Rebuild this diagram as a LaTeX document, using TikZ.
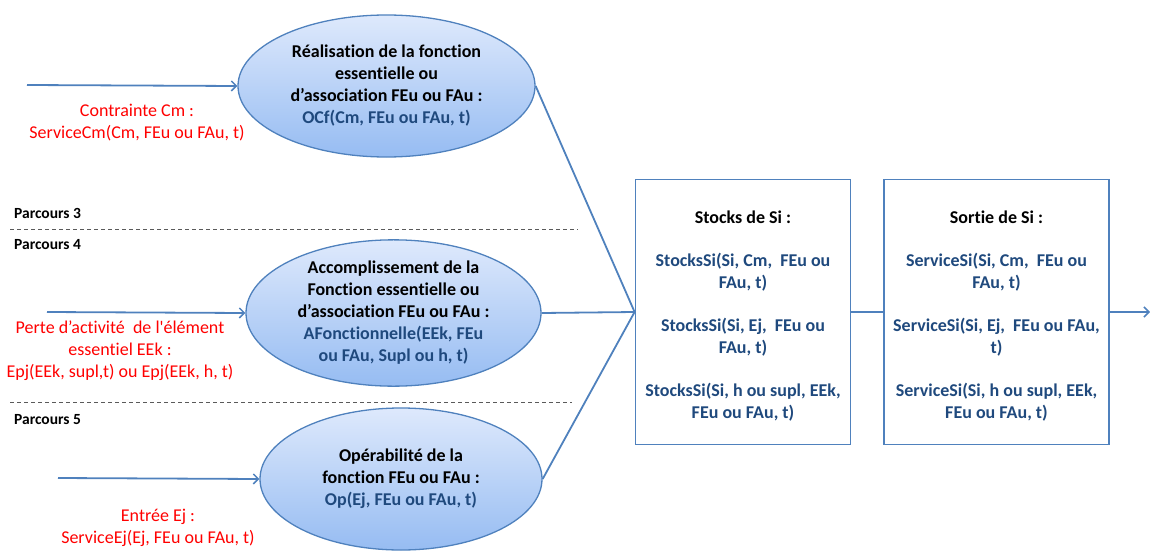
\documentclass[tikz,border=0pt]{standalone}
\usepackage{fontspec}
\setmainfont{Carlito}[Ligatures={TeXOff,CommonOff},RawFeature={-liga;-clig;-calt}]
\usetikzlibrary{shapes.geometric,arrows.meta,shadings}
\definecolor{linec}{RGB}{79,129,189}
\definecolor{txtblue}{RGB}{31,73,125}
\definecolor{txtred}{RGB}{255,0,0}
\definecolor{dashc}{RGB}{90,90,90}
\definecolor{elltop}{RGB}{222,233,252}
\definecolor{ellbot}{RGB}{150,188,242}
\tikzset{
  ellnode/.style={ellipse, draw=linec, line width=1.3pt, top color=elltop, bottom color=ellbot,
    inner sep=0pt, align=center, font=\fontsize{18}{22}\selectfont\bfseries},
  boxrect/.style={rectangle, draw=linec, line width=1.8pt, inner sep=0pt},
  boxtext/.style={align=center, inner sep=0pt, font=\fontsize{18}{22}\selectfont\bfseries},
  conn/.style={draw=linec, line width=1.8pt},
  inarrow/.style={conn, -{Straight Barb[length=5pt,width=10pt,line width=1.5pt]}},
  redlabel/.style={text=txtred, align=center, font=\fontsize{18}{22}\selectfont},
  parc/.style={anchor=west, font=\fontsize{15.5}{17}\selectfont\bfseries, inner sep=0pt},
  sep/.style={draw=dashc, line width=1pt, dash pattern=on 4pt off 3pt},
}
\begin{document}
\begin{tikzpicture}[x=1pt,y=-1pt]
\useasboundingbox (0,0) rectangle (1150,551);

% ellipses
\node[ellnode, minimum width=297pt, minimum height=142pt] (e1) at (386.5,86)
  {Réalisation de la fonction\\essentielle ou\\d’association FEu ou FAu :\\\textcolor{txtblue}{OCf(Cm, FEu ou FAu, t)}};
\node[ellnode, minimum width=295pt, minimum height=146pt] (e2) at (393.5,313)
  {Accomplissement de la\\Fonction essentielle ou\\d’association FEu ou FAu :\\\textcolor{txtblue}{AFonctionnelle(EEk, FEu}\\\textcolor{txtblue}{ou FAu, Supl ou h, t)}};
\node[ellnode, minimum width=282pt, minimum height=142pt] (e3) at (401,479)
  {Opérabilité de la\\fonction FEu ou FAu :\\\textcolor{txtblue}{Op(Ej, FEu ou FAu, t)}};

% boxes
\node[boxrect, minimum width=215pt, minimum height=265pt] (b1) at (743,312) {};
\node[boxrect, minimum width=225pt, minimum height=265pt] (b2) at (996.5,312) {};
\node[boxtext] (t1) at (743,316)
  {Stocks de Si :\\[21pt]
   \textcolor{txtblue}{StocksSi(Si, Cm,\ \ FEu ou}\\\textcolor{txtblue}{FAu, t)}\\[21pt]
   \textcolor{txtblue}{StocksSi(Si, Ej,\ \ FEu ou}\\\textcolor{txtblue}{FAu, t)}\\[21pt]
   \textcolor{txtblue}{StocksSi(Si, h ou supl, EEk,}\\\textcolor{txtblue}{FEu ou FAu, t)}};
\node[boxtext] (t2) at (996.5,316)
  {Sortie de Si :\\[21pt]
   \textcolor{txtblue}{ServiceSi(Si, Cm,\ \ FEu ou}\\\textcolor{txtblue}{FAu, t)}\\[21pt]
   \textcolor{txtblue}{ServiceSi(Si, Ej,\ \ FEu ou FAu,}\\\textcolor{txtblue}{t)}\\[21pt]
   \textcolor{txtblue}{ServiceSi(Si, h ou supl, EEk,}\\\textcolor{txtblue}{FEu ou FAu, t)}};

% input arrows
\coordinate (s1) at (27,85);
\coordinate (s2) at (47,312);
\coordinate (s3) at (58,478);
\draw[inarrow] (s1) -- (e1.west);
\draw[inarrow] (s2) -- (e2.west);
\draw[inarrow] (s3) -- (e3.west);

% labels
\node[redlabel] (l1) at (137,123) {Contrainte Cm :\\ServiceCm(Cm, FEu ou FAu, t)};
\node[redlabel] (l2) at (120,351) {Perte d’activité\ \ de l'élément\\essentiel EEk :\\Epj(EEk, supl,t) ou Epj(EEk, h, t)};
\node[redlabel] (l3) at (158,528) {Entrée Ej :\\ServiceEj(Ej, FEu ou FAu, t)};

% parcours
\node[parc] (p3) at (14,213) {Parcours 3};
\node[parc] (p4) at (14,245) {Parcours 4};
\node[parc] (p5) at (14,420) {Parcours 5};
\coordinate (d1a) at (10,229);
\coordinate (d1b) at (578,229);
\coordinate (d2a) at (10,402);
\coordinate (d2b) at (572,402);
\draw[sep] (d1a) -- (d1b);
\draw[sep] (d2a) -- (d2b);

% connectors to stocks
\draw[conn] (e1.east) -- (b1.west);
\draw[conn] (e2.east) -- (b1.west);
\draw[conn] (e3.east) -- (b1.west);
\draw[conn] (b1.east) -- (b2.west);
\coordinate (out) at (1150,312);
\draw[inarrow] (b2.east) -- (out);
\end{tikzpicture}
\end{document}
